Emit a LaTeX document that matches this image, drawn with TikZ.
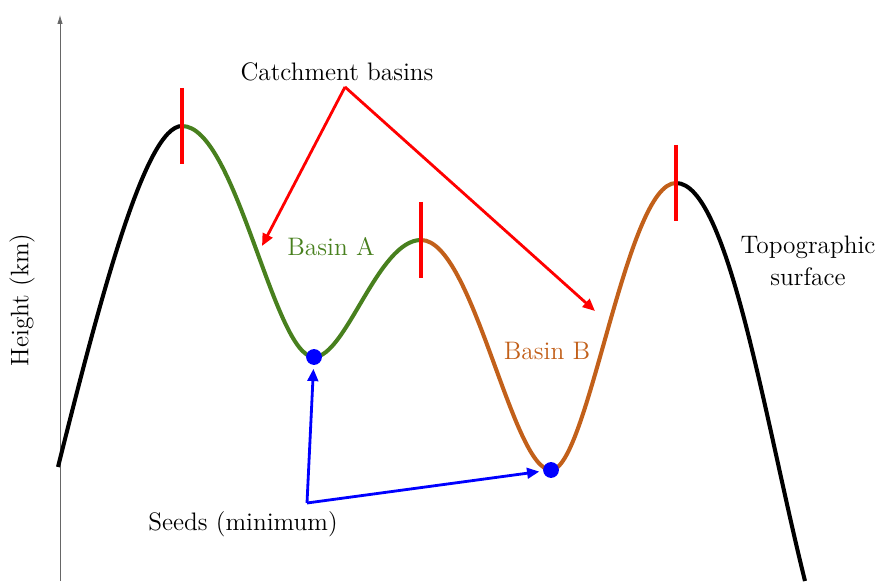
\documentclass[tikz,border=0pt]{standalone}
\usepackage{amsmath,amssymb}
\usepackage{tikz}
\usetikzlibrary{arrows.meta}
\definecolor{basingreen}{RGB}{72,128,30}
\definecolor{basinorange}{RGB}{194,96,26}

\begin{document}
\begin{tikzpicture}[x=0.02cm,y=0.02cm,every node/.style={font=\Large},
	surf/.style={line width=2.3pt},
	ridge/.style={red, line width=1.8pt},
	seed/.style={circle, fill=blue, inner sep=0pt, minimum size=9pt},
	pointer/.style={line width=1.6pt, -{Triangle[length=7pt,width=6pt]}}]
	\useasboundingbox (0,0) rectangle (881,581);
	% axis
	\draw[gray!80!black, -{Latex[length=5pt,width=3pt]}] (60,0) -- (60,566);
	\node[rotate=90] (ylab) at (22,281) {Height (km)};
	% key points of the surface
	\coordinate (start) at (58,114);
	\coordinate (peakA) at (182,455);
	\coordinate (peakB) at (421,341);
	\coordinate (peakC) at (676,398);
	\coordinate (stop) at (805,0);
	\coordinate (lowA) at (314,224);
	\coordinate (lowB) at (551,111);
	% surface
	\draw[surf, black] (start) .. controls (102,290) and (146,455) .. (peakA);
	\draw[surf, basingreen] (peakA) .. controls +(54,0) and +(-40,0) .. (lowA)
		.. controls +(32,0) and +(-43,0) .. (peakB);
	\draw[surf, basinorange] (peakB) .. controls +(52,0) and +(-39,0) .. (lowB)
		.. controls +(37,0) and +(-50,0) .. (peakC);
	\draw[surf, black] (peakC) .. controls (728,398) and (765,160) .. (stop);
	\node[seed] (seedA) at (lowA) {};
	\node[seed] (seedB) at (lowB) {};
	% watershed lines
	\foreach \p in {peakA,peakB,peakC} {\draw[ridge] (\p) ++(0,38) -- ++(0,-76);}
	% labels
	\node (catch) at (337,509) {Catchment basins};
	\node[basingreen] (labA) at (331,334) {Basin A};
	\node[basinorange] (labB) at (547,230) {Basin B};
	\node[align=center] (topo) at (808,320) {Topographic\\surface};
	\node (seeds) at (243,57) {Seeds (minimum)};
	\coordinate (cfork) at (345,494);
	\coordinate (tipA) at (262,335);
	\coordinate (tipB) at (595,270);
	\draw[pointer, red] (cfork) -- (tipA);
	\draw[pointer, red] (cfork) -- (tipB);
	\coordinate (sfork) at (307,78);
	\draw[pointer, blue, shorten >=2pt] (sfork) -- (seedA);
	\draw[pointer, blue, shorten >=2pt] (sfork) -- (seedB);
\end{tikzpicture}
\end{document}
